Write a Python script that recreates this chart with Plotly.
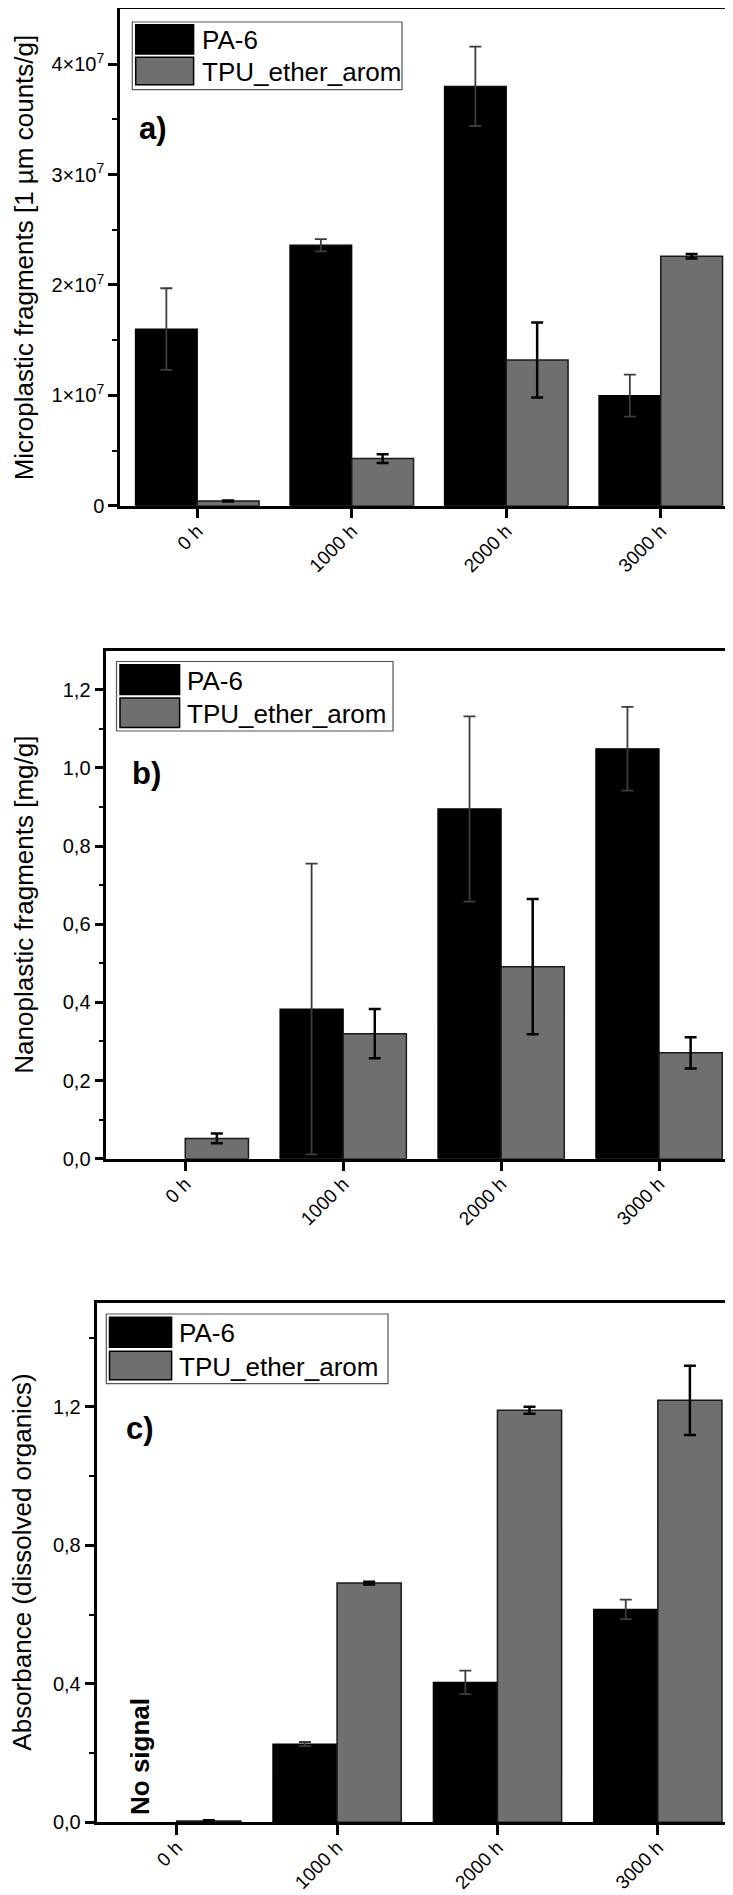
import plotly.graph_objects as go

# ---------------- data ----------------
categories = ["0 h", "1000 h", "2000 h", "3000 h"]
series_names = ["PA-6", "TPU_ether_arom"]

# a) Microplastic fragments [1 µm counts/g]
a_pa6 = [1.60e7, 2.36e7, 3.80e7, 0.997e7]
a_pa6_err = [0.37e7, 0.055e7, 0.36e7, 0.19e7]
a_tpu = [0.043e7, 0.427e7, 1.32e7, 2.26e7]
a_tpu_err = [0.005e7, 0.04e7, 0.34e7, 0.02e7]
a_tickvals = [0, 1e7, 2e7, 3e7, 4e7]
a_ticktext = ["0", "1×10<sup>7</sup>", "2×10<sup>7</sup>", "3×10<sup>7</sup>", "4×10<sup>7</sup>"]

# b) Nanoplastic fragments [mg/g]
b_pa6 = [None, 0.383, 0.895, 1.049]
b_pa6_err = [0, 0.372, 0.237, 0.107]
b_tpu = [0.052, 0.320, 0.4915, 0.271]
b_tpu_err = [0.0125, 0.063, 0.173, 0.040]
b_tickvals = [0.0, 0.2, 0.4, 0.6, 0.8, 1.0, 1.2]
b_ticktext = ["0,0", "0,2", "0,4", "0,6", "0,8", "1,0", "1,2"]

# c) Absorbance (dissolved organics)
c_pa6 = [None, 0.226, 0.404, 0.615]
c_pa6_err = [0, 0.006, 0.034, 0.028]
c_tpu = [0.004, 0.691, 1.190, 1.219]
c_tpu_err = [0.002, 0.004, 0.010, 0.100]
c_tickvals = [0.0, 0.4, 0.8, 1.2]
c_ticktext = ["0,0", "0,4", "0,8", "1,2"]

titles = ["Microplastic fragments [1 µm counts/g]",
          "Nanoplastic fragments [mg/g]",
          "Absorbance (dissolved organics)"]
panel_labels = ["a)", "b)", "c)"]

# ---------------- style ----------------
W, H = 733, 1895
FONT = "Arial, Liberation Sans, Helvetica, sans-serif"
BLACK = "#000000"
GREY = "#6f6f6f"

def px(x):
    return x / W

def py(y):
    return 1 - y / H

fig = go.Figure()

panels = [
    (a_pa6, a_pa6_err, a_tpu, a_tpu_err),
    (b_pa6, b_pa6_err, b_tpu, b_tpu_err),
    (c_pa6, c_pa6_err, c_tpu, c_tpu_err),
]
for i, (p, pe, t, te) in enumerate(panels):
    ax = "" if i == 0 else str(i + 1)
    fig.add_trace(go.Bar(
        x=categories, y=p, name=series_names[0],
        marker=dict(color=BLACK, line=dict(color=BLACK, width=1.2)),
        error_y=dict(type="data", array=pe, visible=True, color="#3c3c3c",
                     thickness=1.8, width=6),
        xaxis="x" + ax, yaxis="y" + ax, showlegend=False))
    fig.add_trace(go.Bar(
        x=categories, y=t, name=series_names[1],
        marker=dict(color=GREY, line=dict(color="#1a1a1a", width=1.5)),
        error_y=dict(type="data", array=te, visible=True, color=BLACK,
                     thickness=2.5, width=6),
        xaxis="x" + ax, yaxis="y" + ax, showlegend=False))

# plot-area geometry (pixels)
geo = [
    dict(left=112, right=730, top=1, bottom=497.7),
    dict(left=98.3, right=730, top=642.7, bottom=1150.7),
    dict(left=88.5, right=730, top=1295, bottom=1814.3),
]
yranges = [[0, 4.5e7], [0, 1.3], [0, 1.5]]
tickv = [a_tickvals, b_tickvals, c_tickvals]
tickt = [a_ticktext, b_ticktext, c_ticktext]
minor_vals = [[0.5e7, 1.5e7, 2.5e7, 3.5e7],
              [0.1, 0.3, 0.5, 0.7, 0.9, 1.1],
              [0.2, 0.6, 1.0, 1.4]]

layout = dict(
    width=W, height=H,
    margin=dict(l=0, r=0, t=0, b=0),
    paper_bgcolor="white", plot_bgcolor="white",
    barmode="group", bargap=0.2, bargroupgap=0,
    font=dict(family=FONT, color=BLACK, size=20),
    showlegend=False,
)
for i, g in enumerate(geo):
    ax = "" if i == 0 else str(i + 1)
    layout["xaxis" + ax] = dict(
        domain=[px(g["left"]), px(g["right"])],
        anchor="y" + ax, type="category", range=[-0.5, 3.5],
        showline=True, linewidth=2.5, linecolor=BLACK, mirror=True,
        ticks="outside", ticklen=10, tickwidth=2.5, tickcolor=BLACK,
        tickangle=-45, ticklabelstandoff=-6,
        tickfont=dict(size=19, family=FONT, color=BLACK),
        showgrid=False, zeroline=False, automargin=False, fixedrange=True)
    layout["yaxis" + ax] = dict(
        domain=[py(g["bottom"]), py(g["top"])],
        anchor="x" + ax, range=yranges[i],
        tickmode="array", tickvals=tickv[i], ticktext=tickt[i],
        showline=True, linewidth=2.5, linecolor=BLACK, mirror=True,
        ticks="outside", ticklen=9, tickwidth=2.5, tickcolor=BLACK,
        tickfont=dict(size=20, family=FONT, color=BLACK),
        minor=dict(ticks="outside", ticklen=5, tickwidth=2, tickcolor=BLACK,
                   tickmode="array", tickvals=minor_vals[i], showgrid=False),
        showgrid=False, zeroline=False, automargin=False, fixedrange=True)

fig.update_layout(**layout)

# ---- axis titles, panel letters, legends (drawn in paper coordinates) ----
title_x = [16, 16, 14]
letter_pos = [(145, 120), (138, 765), (131.5, 1420)]
legend_geo = [
    dict(box=(124.3, 14, 394, 81.7), sw_x=(127.7, 185.6), sw1=(16.7, 46), sw2=(49.3, 76.7), tx=192),
    dict(box=(108.5, 653.5, 385, 723), sw_x=(112, 171.6), sw1=(656.7, 686.5), sw2=(690, 719.5), tx=177),
    dict(box=(98.3, 1306, 380, 1375.7), sw_x=(101.5, 163.6), sw1=(1309.3, 1339.3), sw2=(1343.3, 1371.7), tx=169),
]

annotations = []
shapes = []
for i, g in enumerate(geo):
    annotations.append(dict(
        text=titles[i], xref="paper", yref="paper",
        x=px(title_x[i]), y=py((g["top"] + g["bottom"]) / 2),
        xanchor="center", yanchor="middle", textangle=-90, showarrow=False,
        font=dict(size=26, family=FONT, color=BLACK)))
    lx, ly = letter_pos[i]
    annotations.append(dict(
        text="<b>%s</b>" % panel_labels[i], xref="paper", yref="paper",
        x=px(lx), y=py(ly), xanchor="center", yanchor="middle", showarrow=False,
        font=dict(size=31, family=FONT, color=BLACK)))
    lg = legend_geo[i]
    x0, y0, x1, y1 = lg["box"]
    shapes.append(dict(type="rect", xref="paper", yref="paper",
                       x0=px(x0), x1=px(x1), y0=py(y1), y1=py(y0),
                       line=dict(color="#555555", width=1.2), fillcolor="white", layer="above"))
    for sw, col, name in [(lg["sw1"], BLACK, series_names[0]), (lg["sw2"], GREY, series_names[1])]:
        shapes.append(dict(type="rect", xref="paper", yref="paper",
                           x0=px(lg["sw_x"][0]), x1=px(lg["sw_x"][1]),
                           y0=py(sw[1]), y1=py(sw[0]),
                           line=dict(color=BLACK, width=1.5), fillcolor=col, layer="above"))
        annotations.append(dict(
            text=name, xref="paper", yref="paper",
            x=px(lg["tx"]), y=py((sw[0] + sw[1]) / 2 + 1),
            xanchor="left", yanchor="middle", showarrow=False,
            font=dict(size=26, family=FONT, color=BLACK)))

annotations.append(dict(
    text="<b>No signal</b>", xref="paper", yref="paper",
    x=px(131.5), y=py(1809), xanchor="center", yanchor="bottom",
    textangle=-90, showarrow=False,
    font=dict(size=26, family=FONT, color=BLACK)))

fig.update_layout(annotations=annotations, shapes=shapes)

fig.write_html("out.html")
